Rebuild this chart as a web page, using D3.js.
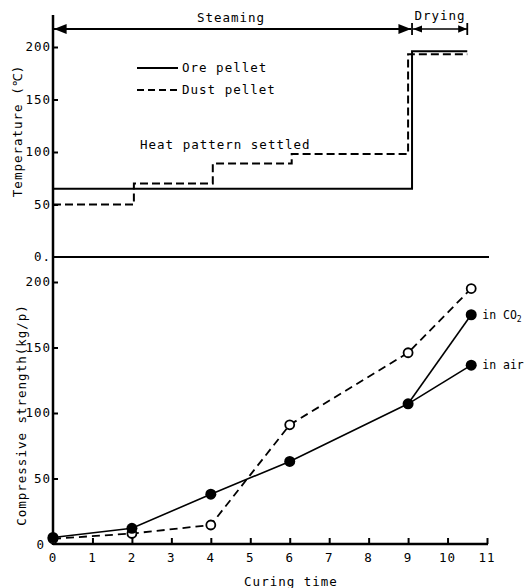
<!DOCTYPE html>
<html><head><meta charset="utf-8">
<script src="https://cdn.jsdelivr.net/npm/d3@7/dist/d3.min.js"></script>
<style>
html,body{margin:0;padding:0;background:#fff;}
text{font-family:"DejaVu Sans Mono","Liberation Mono",monospace;font-size:12.5px;fill:#000;letter-spacing:1px;}
</style></head>
<body>
<svg id="c" width="530" height="588"></svg>
<script>
// ---- data ----
const xTicks = [0,1,2,3,4,5,6,7,8,9,10,11];
const tempTicks = [0,50,100,150,200];
const tempTickLabels = ["0.","50","100","150","200"];
const strTicks = [0,50,100,150,200];
const strTickLabels = ["0","50","100","150","200"];

const oreStepX = [0, 9.1, 10.5];
const oreStepT = [65, 196, 196];
const dustStepX = [0, 2.05, 4.05, 6.05, 9.0, 10.5];
const dustStepT = [50, 70, 89, 98, 193, 193];

const strTime = [0, 2, 4, 6, 9];
const strSolid = [5, 12, 38, 63, 107];
const endTime = 10.6;
const strAirEnd = 136.5;
const strCO2End = 175;
const strOpenTime = [0, 2, 4, 6, 9, 10.6];
const strOpen = [4, 8, 14.5, 91, 146, 195];

const steamEnd = 9.1, dryEnd = 10.5;

// ---- scales ----
const svg = d3.select("#c");
const x = d3.scaleLinear().domain([0,11]).range([53,487]);
const yT = d3.scaleLinear().domain([0,200]).range([257,47]);
const yS = d3.scaleLinear().domain([0,200]).range([544,282]);

// left axis line
svg.append("line").attr("x1",x(0)).attr("x2",x(0)).attr("y1",15).attr("y2",yS(0)+1)
  .attr("stroke","#000").attr("stroke-width",2.5);

// top y axis ticks
const gT = svg.append("g").attr("transform",`translate(${x(0)},0)`)
  .call(d3.axisRight(yT).tickValues(tempTicks.slice(1)).tickSize(5).tickFormat(""));
gT.select(".domain").remove();
gT.selectAll("line").attr("stroke-width",2);
svg.selectAll(".tl").data(tempTicks).enter().append("text")
  .attr("x",x(0)-2).attr("y",d=>yT(d)+4).attr("text-anchor","end")
  .text((d,i)=>tempTickLabels[i]);

// top zero line
svg.append("line").attr("x1",x(0)).attr("x2",489).attr("y1",yT(0)).attr("y2",yT(0))
  .attr("stroke","#000").attr("stroke-width",2);

// bottom axes
const gY = svg.append("g").attr("transform",`translate(${x(0)},0)`)
  .call(d3.axisRight(yS).tickValues(strTicks.slice(1)).tickSize(5).tickFormat(""));
gY.select(".domain").remove();
gY.selectAll("line").attr("stroke-width",2);
svg.selectAll(".sl").data(strTicks).enter().append("text")
  .attr("x",(d)=> d===0 ? x(0)-8 : x(0)-2).attr("y",d=> d===0 ? yS(d)+5 : yS(d)+4).attr("text-anchor","end")
  .text((d,i)=>strTickLabels[i]);

const gX = svg.append("g").attr("transform",`translate(0,${yS(0)})`)
  .call(d3.axisTop(x).tickValues(xTicks).tickSize(6).tickFormat(""));
gX.select(".domain").remove();
gX.selectAll("line").attr("stroke-width",2);
svg.append("line").attr("x1",x(0)).attr("x2",x(11)+1).attr("y1",yS(0)).attr("y2",yS(0))
  .attr("stroke","#000").attr("stroke-width",2.5);
svg.selectAll(".xl").data(xTicks).enter().append("text")
  .attr("x",d=>x(d)).attr("y",yS(0)+18).attr("text-anchor","middle").text(d=>d);

// axis titles
svg.append("text").attr("transform",`translate(22,131) rotate(-90)`).attr("text-anchor","middle")
  .text("Temperature (℃)");
svg.append("text").attr("transform",`translate(26,415) rotate(-90)`).attr("text-anchor","middle")
  .text("Compressive strength(kg/p)");
svg.append("text").attr("x",291).attr("y",586).attr("text-anchor","middle").text("Curing time");

// step lines
const stepLine = d3.line().x(d=>x(d[0])).y(d=>yT(d[1])).curve(d3.curveStepAfter);
svg.append("path").datum(oreStepX.map((v,i)=>[v,oreStepT[i]])).attr("d",stepLine)
  .attr("fill","none").attr("stroke","#000").attr("stroke-width",2);
svg.append("path").datum(dustStepX.map((v,i)=>[v,dustStepT[i]])).attr("d",stepLine)
  .attr("fill","none").attr("stroke","#000").attr("stroke-width",2).attr("stroke-dasharray","8,4");

// legend
svg.append("line").attr("x1",137).attr("x2",178).attr("y1",68).attr("y2",68).attr("stroke","#000").attr("stroke-width",1.8);
svg.append("text").attr("x",182).attr("y",72).text("Ore pellet");
svg.append("line").attr("x1",137).attr("x2",178).attr("y1",90).attr("y2",90).attr("stroke","#000").attr("stroke-width",1.8).attr("stroke-dasharray","7,4");
svg.append("text").attr("x",182).attr("y",94).text("Dust pellet");
svg.append("text").attr("x",140).attr("y",149).text("Heat pattern settled");

// phase arrows
const ay = 29;
const defs = svg.append("defs");
defs.append("marker").attr("id","ah").attr("viewBox","0 0 10 10").attr("refX",10).attr("refY",5)
  .attr("markerWidth",7).attr("markerHeight",7).attr("orient","auto-start-reverse")
  .append("path").attr("d","M0,1 L10,5 L0,9 Z").attr("fill","#000");
svg.append("line").attr("x1",x(0)+1).attr("x2",x(steamEnd)-1).attr("y1",ay).attr("y2",ay)
  .attr("stroke","#000").attr("stroke-width",1.8)
  .attr("marker-start","url(#ah)").attr("marker-end","url(#ah)");
svg.append("line").attr("x1",x(steamEnd)+1).attr("x2",x(dryEnd)).attr("y1",ay).attr("y2",ay)
  .attr("stroke","#000").attr("stroke-width",1.3)
  .attr("marker-start","url(#ah)").attr("marker-end","url(#ah)");
[steamEnd, dryEnd].forEach(v=>{
  svg.append("line").attr("x1",x(v)).attr("x2",x(v)).attr("y1",ay-6).attr("y2",ay+6)
    .attr("stroke","#000").attr("stroke-width",1.8);
});
svg.append("text").attr("x",231).attr("y",22).attr("text-anchor","middle").text("Steaming");
svg.append("text").attr("x",440).attr("y",20).attr("text-anchor","middle").text("Drying");

// strength lines
const sLine = d3.line().x(d=>x(d[0])).y(d=>yS(d[1]));
const solidPts = strTime.map((t,i)=>[t,strSolid[i]]);
const last = solidPts[solidPts.length-1];
svg.append("path").datum(solidPts).attr("d",sLine).attr("fill","none").attr("stroke","#000").attr("stroke-width",1.6);
svg.append("path").datum([last,[endTime,strAirEnd]]).attr("d",sLine).attr("fill","none").attr("stroke","#000").attr("stroke-width",1.6);
svg.append("path").datum([last,[endTime,strCO2End]]).attr("d",sLine).attr("fill","none").attr("stroke","#000").attr("stroke-width",1.6);
const openPts = strOpenTime.map((t,i)=>[t,strOpen[i]]);
svg.append("path").datum(openPts).attr("d",sLine).attr("fill","none").attr("stroke","#000").attr("stroke-width",1.8).attr("stroke-dasharray","8,5");

// markers
svg.selectAll(".op").data(openPts).enter().append("circle")
  .attr("cx",d=>x(d[0])).attr("cy",d=>yS(d[1])).attr("r",4.5)
  .attr("fill","#fff").attr("stroke","#000").attr("stroke-width",1.8);
svg.selectAll(".fp").data(solidPts.concat([[endTime,strAirEnd],[endTime,strCO2End]])).enter().append("circle")
  .attr("cx",d=>x(d[0])).attr("cy",d=>yS(d[1])).attr("r",5.5).attr("fill","#000");

// end labels
const co2 = svg.append("text").attr("x",x(endTime)+11).attr("y",yS(strCO2End)+4)
  .style("letter-spacing","0px").style("font-size","11.5px").text("in CO");
co2.append("tspan").attr("dy",3).style("font-size","8px").text("2");
svg.append("text").attr("x",x(endTime)+11).attr("y",yS(strAirEnd)+4)
  .style("letter-spacing","0px").style("font-size","11.5px").text("in air");
</script>
</body></html>
